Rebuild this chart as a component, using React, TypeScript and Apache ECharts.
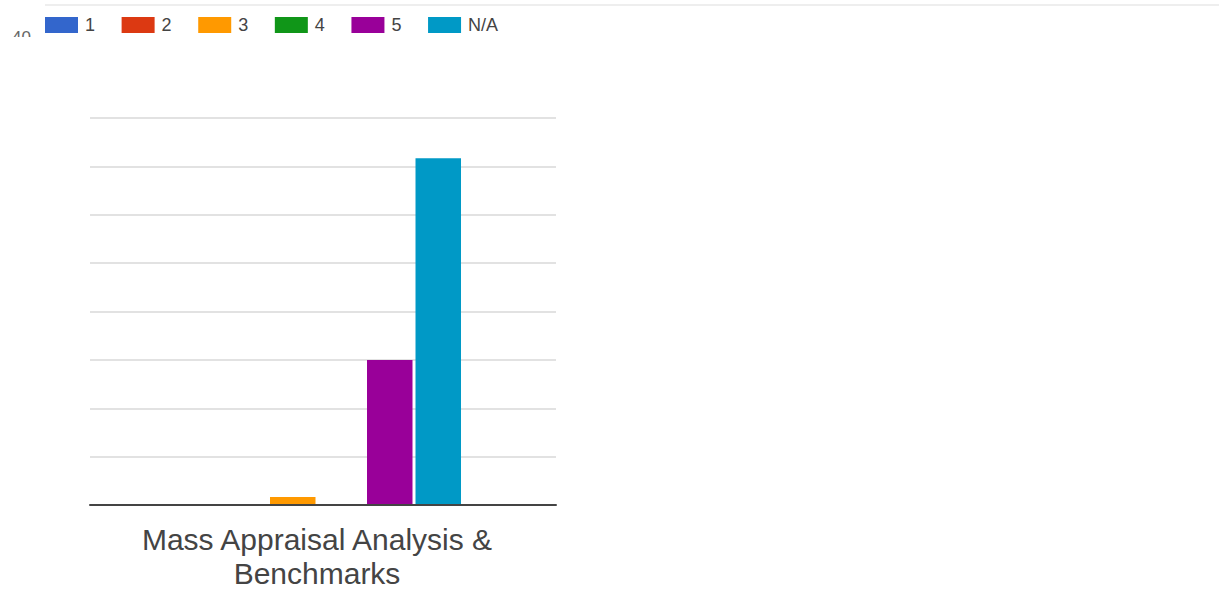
import React, { useEffect, useRef } from "react";
import * as echarts from "echarts";

const categories = ["Mass Appraisal Analysis &\nBenchmarks"];
const seriesNames = ["1", "2", "3", "4", "5", "N/A"];
const seriesValues = [[0], [0], [1], [0], [18], [43]];
const seriesColors = ["#3366cc", "#dc3912", "#ff9900", "#109618", "#990099", "#0099c6"];
const yMax = 48;
const yInterval = 6;

export default function App() {
  const ref = useRef<HTMLDivElement>(null);
  useEffect(() => {
    if (!ref.current) return;
    const chart = echarts.init(ref.current, undefined, { renderer: "svg" });
    const font = "'Liberation Sans', Arial, sans-serif";
    chart.setOption({
      animation: false,
      backgroundColor: "#ffffff",
      legend: {
        left: 45,
        top: 16,
        padding: 0,
        itemWidth: 33,
        itemHeight: 16,
        itemGap: 26.6,
        icon: "rect",
        textStyle: { fontSize: 18, color: "#444", fontFamily: font, padding: [0, 0, 0, 2] },
        data: seriesNames,
      },
      graphic: [
        { type: "line", shape: { x1: 45, y1: 5, x2: 1219, y2: 5 }, style: { stroke: "#eeeeee", lineWidth: 2 }, z: 10 },
        { type: "text", x: 12, y: 29, style: { text: "40", fontSize: 17, fill: "#666", fontFamily: font }, z: 10 },
        { type: "rect", shape: { x: 0, y: 37, width: 42, height: 30 }, style: { fill: "#ffffff" }, z: 11 },
      ],
      grid: [
        { left: 90, right: 663, top: 118, bottom: 84, outerBoundsMode: "none", containLabel: false },
        { left: 78, right: 663, top: 118, bottom: 84, outerBoundsMode: "none", containLabel: false },
      ],
      xAxis: [
        {
          type: "category",
          gridIndex: 0,
          data: categories,
          axisLine: { show: true, lineStyle: { color: "#444", width: 2 } },
          axisTick: { show: false },
          axisLabel: { show: false },
          z: 5,
        },
        {
          type: "category",
          gridIndex: 1,
          data: categories,
          axisLine: { show: false },
          axisTick: { show: false },
          axisLabel: {
            show: true,
            margin: 14,
            align: "center",
            formatter: (v: string) =>
              v
                .split("\n")
                .map((s, i) => `{${i === 0 ? "a" : "b"}|${s}}`)
                .join("\n"),
            rich: {
              a: { fontSize: 30, lineHeight: 40, color: "#444", fontFamily: font },
              b: { fontSize: 30, lineHeight: 28, color: "#444", fontFamily: font },
            },
          },
        },
      ],
      yAxis: [
        {
          type: "value",
          gridIndex: 0,
          min: 0,
          max: yMax,
          interval: yInterval,
          axisLabel: { show: false },
          axisLine: { show: false },
          axisTick: { show: false },
          splitLine: { show: true, lineStyle: { color: "#e2e2e2", width: 2 } },
        },
        {
          type: "value",
          gridIndex: 1,
          min: 0,
          max: yMax,
          interval: yInterval,
          axisLabel: { show: false },
          axisLine: { show: false },
          axisTick: { show: false },
          splitLine: { show: false },
        },
      ],
      series: seriesNames.map((name, i) => ({
        name,
        type: "bar",
        xAxisIndex: 1,
        yAxisIndex: 1,
        data: seriesValues[i],
        barWidth: 45.5,
        barGap: "6.6%",
        itemStyle: { color: seriesColors[i] },
      })),
    });
    return () => chart.dispose();
  }, []);
  return (
    <div
      ref={ref}
      style={{ position: "fixed", left: 0, top: 0, width: 1219, height: 589 }}
    />
  );
}
